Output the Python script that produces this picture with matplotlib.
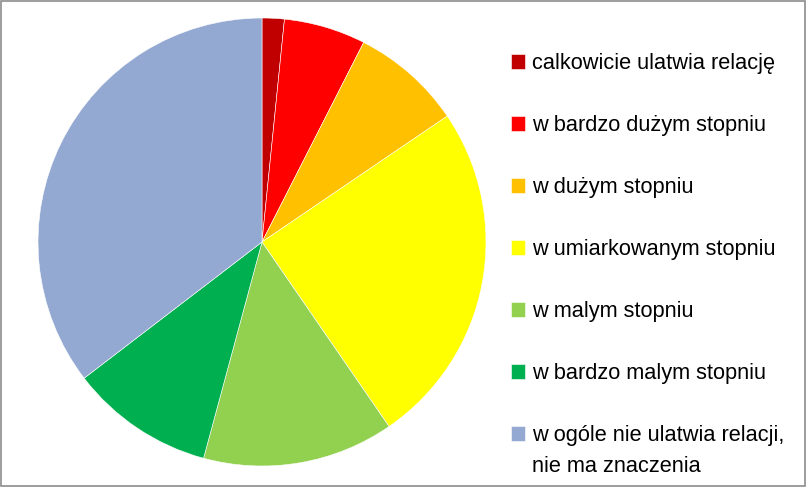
import matplotlib.pyplot as plt
from matplotlib.patches import Rectangle

# slice shares in percent (clockwise from the top)
labels = ['calkowicie ulatwia relację', 'w bardzo dużym stopniu', 'w dużym stopniu',
          'w umiarkowanym stopniu', 'w malym stopniu', 'w bardzo malym stopniu',
          'w ogóle nie ulatwia relacji,']
label_tail = 'nie ma znaczenia'
values = [1.6, 5.9, 8.0, 24.9, 13.8, 10.4, 35.4]
colors = ['#C00000', '#FF0000', '#FFC000', '#FFFF00', '#92D050', '#00B050', '#94A9D1']

plt.rcParams['font.family'] = ['Liberation Sans', 'DejaVu Sans']

fig = plt.figure(figsize=(8.07, 4.87), dpi=100)
ax = fig.add_axes([38 / 807, 21 / 487, 448 / 807, 448 / 487])

wedges, _ = ax.pie(values, colors=colors, startangle=90, counterclock=False,
                   radius=1, wedgeprops=dict(edgecolor='white', linewidth=0.4))
ax.set_xlim(-1.0, 1.0)
ax.set_ylim(-1.0, 1.0)

fs = 15.7
leg = fig.legend(wedges, labels, loc='upper left', bbox_to_anchor=(511 / 807, 1 - 53 / 487),
                 frameon=False, fontsize=fs, handlelength=0.65, handleheight=0.65,
                 handletextpad=0.3, labelspacing=1.88, borderaxespad=0, borderpad=0)

# second line of the last legend entry, under the first line
fig.canvas.draw()
bb = leg.get_texts()[-1].get_window_extent().transformed(fig.transFigure.inverted())
fig.text(bb.x0, bb.y0 - 0.02, label_tail, fontsize=fs, ha='left', va='top')

# grey frame round the chart
fig.patches.append(Rectangle((0.001, 0.002), 0.997, 0.996, transform=fig.transFigure,
                             fill=False, edgecolor='#8c8c8c', linewidth=1.2))

fig.savefig('out.png', dpi=100)
